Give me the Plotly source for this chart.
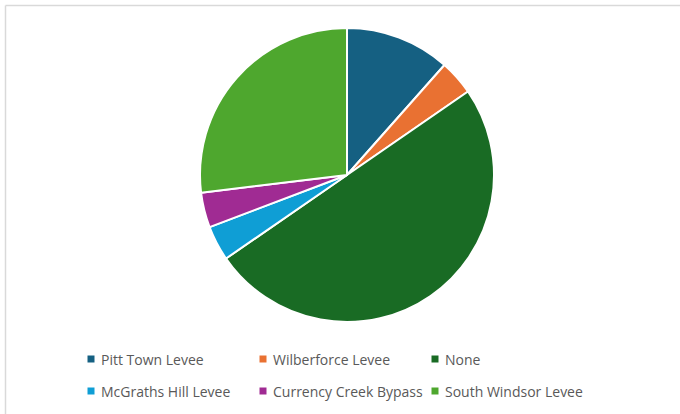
import plotly.graph_objects as go

# Levee protection categories and counts
labels = ["Pitt Town Levee", "Wilberforce Levee", "None",
          "McGraths Hill Levee", "Currency Creek Bypass", "South Windsor Levee"]
counts = [3, 1, 13, 1, 1, 7]
colors = ["#156082", "#E97132", "#196B24", "#0F9ED5", "#A02B93", "#4EA72E"]

W, H = 680, 414
ML, MR, MT, MB = 14, 0, 28, 92
PW, PH = W - ML - MR, H - MT - MB


def px_x(x):
    return (x - ML) / PW


def px_y(y):
    return 1 - (y - MT) / PH


fig = go.Figure(go.Pie(
    labels=labels,
    values=counts,
    marker=dict(colors=colors, line=dict(color="white", width=2)),
    sort=False,
    direction="clockwise",
    rotation=0,
    textinfo="none",
    hoverinfo="label+value+percent",
    showlegend=False,
))

# Legend: two rows of three entries
col_x = [91, 263, 435]
row_y = [359, 391]
shapes = []
annotations = []
for i, (lab, col) in enumerate(zip(labels, colors)):
    cx = col_x[i % 3]
    cy = row_y[i // 3]
    shapes.append(dict(type="rect", xref="paper", yref="paper",
                       x0=px_x(cx - 3.5), x1=px_x(cx + 3.5),
                       y0=px_y(cy + 3.5), y1=px_y(cy - 3.5),
                       fillcolor=col, line=dict(width=0)))
    annotations.append(dict(text=lab, xref="paper", yref="paper",
                            x=px_x(cx + 8), y=px_y(cy), xanchor="left",
                            yanchor="middle", showarrow=False,
                            font=dict(family="Open Sans, sans-serif", size=14,
                                      color="#595959")))

# Chart-area border along the top and left edges
shapes.append(dict(type="line", xref="paper", yref="paper",
                   x0=px_x(5.5), x1=px_x(W + 5), y0=px_y(5.5), y1=px_y(5.5),
                   line=dict(color="#D9D9D9", width=1.5)))
shapes.append(dict(type="line", xref="paper", yref="paper",
                   x0=px_x(5.5), x1=px_x(5.5), y0=px_y(5.5), y1=px_y(H + 5),
                   line=dict(color="#D9D9D9", width=1.5)))

fig.update_layout(
    width=W, height=H,
    margin=dict(l=ML, r=MR, t=MT, b=MB),
    paper_bgcolor="white",
    plot_bgcolor="white",
    shapes=shapes,
    annotations=annotations,
)

fig.write_html("out.html")
